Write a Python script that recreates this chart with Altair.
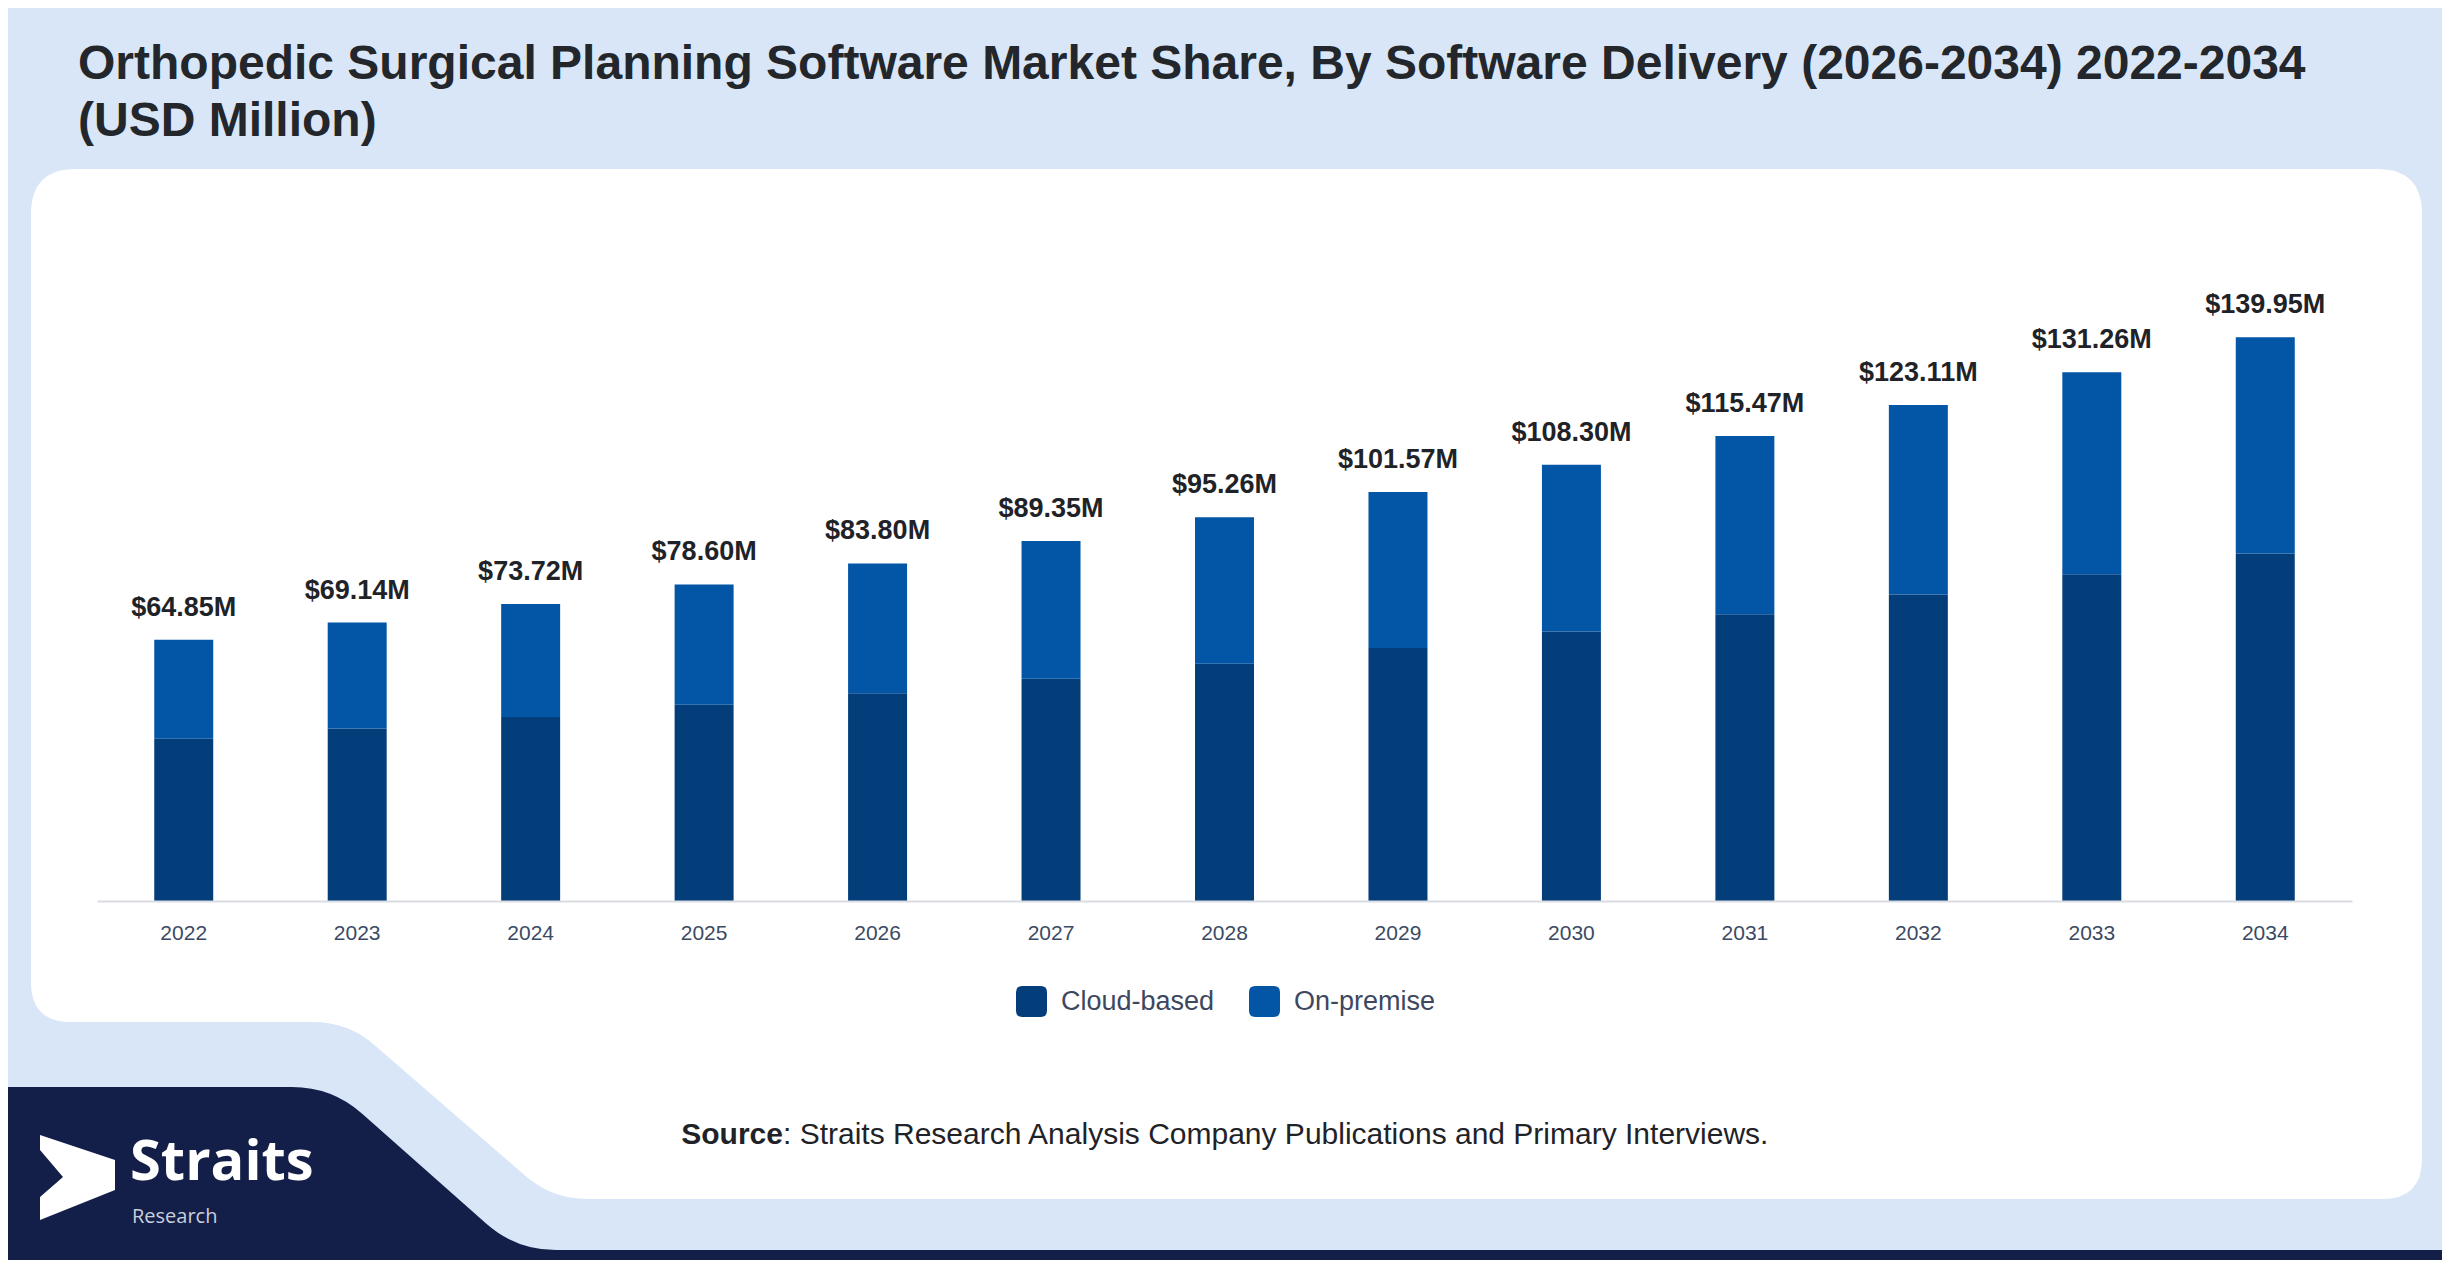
import math
import altair as alt
import pandas as pd

# ---------------- data ----------------
years = ["2022", "2023", "2024", "2025", "2026", "2027", "2028",
         "2029", "2030", "2031", "2032", "2033", "2034"]
totals = [64.85, 69.14, 73.72, 78.60, 83.80, 89.35, 95.26,
          101.57, 108.30, 115.47, 123.11, 131.26, 139.95]
cloud_based = [40.3, 42.8, 45.7, 48.7, 51.6, 55.2, 58.9,
               62.8, 66.9, 71.2, 76.1, 81.1, 86.3]
on_premise = [24.55, 26.34, 28.02, 29.90, 32.20, 34.15, 36.36,
              38.77, 41.40, 44.27, 47.01, 50.16, 53.65]
segments = ["Cloud-based", "On-premise"]
seg_colors = ["#033D7A", "#0355A6"]

title_lines = [
    "Orthopedic Surgical Planning Software Market Share, By Software Delivery (2026-2034) 2022-2034",
    "(USD Million)",
]
source_bold = "Source"
source_rest = ": Straits Research Analysis Company Publications and Primary Interviews."

rows = []
for i, y in enumerate(years):
    rows.append({"year": y, "segment": segments[0], "value": cloud_based[i], "ord": 0})
    rows.append({"year": y, "segment": segments[1], "value": on_premise[i], "ord": 1})
df_long = pd.DataFrame(rows)
df_tot = pd.DataFrame({"year": years, "total": totals})
one = pd.DataFrame({"k": [0]})

FONT = "Liberation Sans"
BG = "#D9E6F8"
NAVY = "#131F48"

# plot origin on the page
OX, OY = 97, 180
PLOT_W, PLOT_H = 2255, 721


def rounded_path(pts, radii):
    n = len(pts)
    cmds = []
    for i in range(n):
        px, py = pts[i]
        r = radii[i]
        ax, ay = pts[i - 1]
        bx, by = pts[(i + 1) % n]
        d1 = math.hypot(ax - px, ay - py)
        d2 = math.hypot(bx - px, by - py)
        r1 = min(r, d1 / 2)
        r2 = min(r, d2 / 2)
        p1 = (px + (ax - px) / d1 * r1, py + (ay - py) / d1 * r1)
        p2 = (px + (bx - px) / d2 * r2, py + (by - py) / d2 * r2)
        cmds.append(("L " if i else "M ") + f"{p1[0]-OX:.1f} {p1[1]-OY:.1f}")
        cmds.append(f"Q {px-OX:.1f} {py-OY:.1f} {p2[0]-OX:.1f} {p2[1]-OY:.1f}")
    return " ".join(cmds) + " Z"


card_path = rounded_path(
    [(31, 169), (2422, 169), (2422, 1199), (552, 1199), (348, 1022), (31, 1022)],
    [45, 45, 40, 35, 35, 40],
)
navy_path = rounded_path(
    [(-30, 1087), (332, 1087), (516, 1250), (2470, 1250), (2470, 1300), (-30, 1300)],
    [0, 40, 40, 0, 0, 0],
)
logo_path = rounded_path(
    [(40, 1135), (115, 1160), (115, 1190), (40, 1220), (40, 1197), (63, 1177), (40, 1150)],
    [0, 0, 0, 0, 0, 0, 0],
)

rounded_square = ("M -0.6 -1 L 0.6 -1 Q 1 -1 1 -0.6 L 1 0.6 Q 1 1 0.6 1 "
                  "L -0.6 1 Q -1 1 -1 0.6 L -1 -0.6 Q -1 -1 -0.6 -1 Z")


def shape_layer(path, color):
    return alt.Chart(one).mark_point(
        shape=path, size=4, filled=True, fill=color, opacity=1, strokeWidth=0
    ).encode(x=alt.value(0), y=alt.value(0))


def text_layer(txt, x, y, size, color, weight="normal", align="left", font=FONT):
    return alt.Chart(one).mark_text(
        text=txt, font=font, fontSize=size, fontWeight=weight, color=color,
        align=align, baseline="alphabetic"
    ).encode(x=alt.value(x), y=alt.value(y))


x_enc = alt.X(
    "year:N", sort=years,
    scale=alt.Scale(paddingInner=0.66, paddingOuter=0.33),
    axis=alt.Axis(title=None, labelAngle=0, labelFont=FONT, labelFontSize=21,
                  labelColor="#3B4A63", labelPadding=21, ticks=False, tickSize=0,
                  domainColor="#D9DDE3", domainWidth=2, grid=False, zindex=1),
)
y_scale = alt.Scale(domain=[0, 179], nice=False, zero=True)

bars = alt.Chart(df_long).mark_bar(strokeWidth=0).encode(
    x=x_enc,
    y=alt.Y("value:Q", stack="zero", scale=y_scale, axis=None),
    color=alt.Color(
        "segment:N",
        scale=alt.Scale(domain=segments, range=seg_colors),
        legend=alt.Legend(
            title=None, orient="none", legendX=919, legendY=806,
            direction="horizontal", symbolType=rounded_square, symbolSize=961,
            symbolStrokeWidth=0, symbolOpacity=1, labelFont=FONT,
            labelFontSize=27, labelColor="#3D4760", labelOffset=14,
            columnPadding=34, zindex=1,
        ),
    ),
    order=alt.Order("ord:Q", sort="ascending"),
)

labels = alt.Chart(df_tot).transform_calculate(
    label="'$' + format(datum.total, '.2f') + 'M'"
).mark_text(
    font=FONT, fontSize=27, fontWeight="bold", color="#1F2328",
    baseline="alphabetic", dy=-24
).encode(
    x=x_enc,
    y=alt.Y("total:Q", scale=y_scale, axis=None),
    text="label:N",
)

chart = alt.layer(
    shape_layer(card_path, "#FFFFFF"),
    shape_layer(navy_path, NAVY),
    shape_layer(logo_path, "#FFFFFF"),
    text_layer("Straits", 130 - OX, 1180 - OY, 56, "#FFFFFF", "bold", font="Open Sans"),
    text_layer("Research", 132 - OX, 1223 - OY, 20, "#C9CFDB", font="Open Sans"),
    text_layer(title_lines[0], 78 - OX, 79 - OY, 48, "#23272B", "bold"),
    text_layer(title_lines[1], 78 - OX, 136 - OY, 48, "#23272B", "bold"),
    text_layer(source_bold, 783 - OX, 1144 - OY, 30, "#1F2328", "bold", align="right"),
    text_layer(source_rest, 783 - OX, 1144 - OY, 30, "#1F2328"),
    bars,
    labels,
).properties(
    width=PLOT_W,
    height=PLOT_H,
    autosize=alt.AutoSizeParams(type="none"),
    padding={"left": OX - 8, "top": OY - 8, "right": 2434 - (OX - 8) - PLOT_W,
             "bottom": 1252 - (OY - 8) - PLOT_H},
    background=BG,
).configure_view(strokeWidth=0)

chart.save("out.html", embed_options={"renderer": "svg", "actions": False})
